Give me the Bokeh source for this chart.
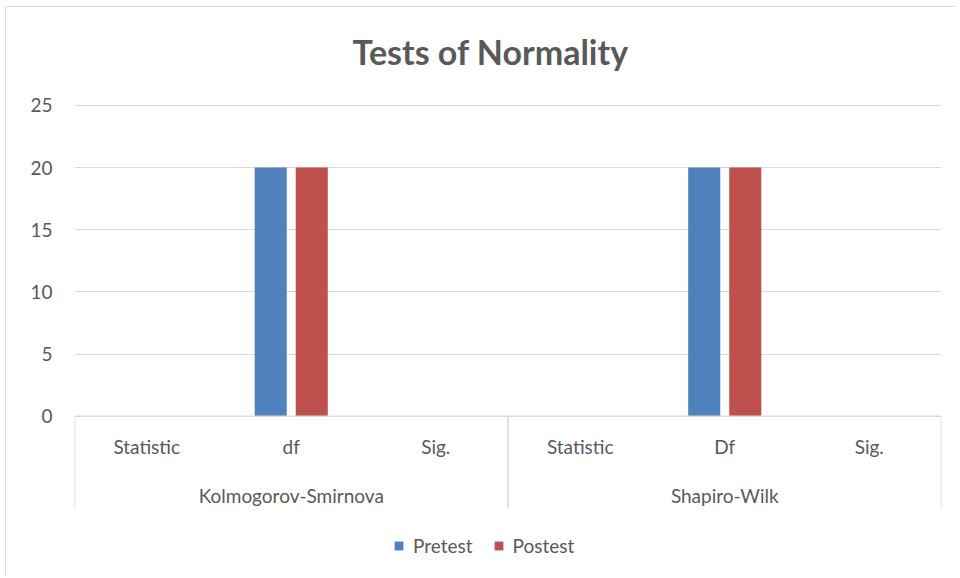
from bokeh.plotting import figure
from bokeh.models import Range1d, FixedTicker, Legend, LegendItem, ColumnDataSource
from bokeh.core.properties import value
from bokeh.embed import file_html
from bokeh.resources import INLINE

# ---- data ----
groups = ["Kolmogorov-Smirnova", "Shapiro-Wilk"]
categories = ["Statistic", "df", "Sig.", "Statistic", "Df", "Sig."]
pretest = [0, 20, 0, 0, 20, 0]
postest = [0, 20, 0, 0, 20, 0]
series_names = ["Pretest", "Postest"]
series_colors = ["#4F81BD", "#C0504D"]
y_ticks = [0, 5, 10, 15, 20, 25]
title_text = "Tests of Normality"

FONT = "Lato"
TXT = "#595959"
GRID = "#D9D9D9"

n = len(categories)
per_group = n // len(groups)

p = figure(width=950, height=570, output_backend="svg", toolbar_location=None,
           x_range=Range1d(0, n), y_range=Range1d(-12.98, 32.88),
           min_border_left=68, min_border_right=15, min_border_top=0, min_border_bottom=0)
p.styles = {"border-left": "1px solid #d9d9d9", "border-top": "1px solid #d9d9d9",
            "margin-left": "5px", "margin-top": "6px"}
p.outline_line_color = None
p.background_fill_color = "white"
p.border_fill_color = "white"

# axes
p.xaxis.visible = False
p.xgrid.visible = False
p.yaxis.ticker = FixedTicker(ticks=y_ticks)
p.yaxis.axis_line_color = None
p.yaxis.major_tick_line_color = None
p.yaxis.minor_tick_line_color = None
p.yaxis.major_label_standoff = 16
p.yaxis.major_label_text_font = FONT
p.yaxis.major_label_text_font_size = "19px"
p.yaxis.major_label_text_color = TXT
p.ygrid.ticker = FixedTicker(ticks=y_ticks)
p.ygrid.grid_line_color = GRID
p.ygrid.grid_line_width = 1

# bars
centers = [i + 0.5 for i in range(n)]
off = 0.142
w = 0.222
src = ColumnDataSource(dict(x1=[c - off for c in centers], x2=[c + off for c in centers],
                            pre=pretest, post=postest))
r1 = p.vbar(x="x1", top="pre", bottom=0, width=w, source=src,
            fill_color=series_colors[0], line_color=None)
r2 = p.vbar(x="x2", top="post", bottom=0, width=w, source=src,
            fill_color=series_colors[1], line_color=None)

# category box lines
box_bottom = -7.43
p.segment(x0=[0], y0=[0], x1=[n], y1=[0], line_color=GRID, line_width=1.5)
bounds = [g * per_group for g in range(len(groups) + 1)]
p.segment(x0=bounds, y0=[0] * len(bounds), x1=bounds, y1=[box_bottom] * len(bounds),
          line_color=GRID, line_width=1.5)

# category labels
p.text(x=centers, y=[-2.44] * n, text=categories, text_font=value(FONT),
       text_font_size="19px", text_color=TXT, text_align="center", text_baseline="middle")
gcenters = [g * per_group + per_group / 2 for g in range(len(groups))]
p.text(x=gcenters, y=[-6.38] * len(groups), text=groups, text_font=value(FONT),
       text_font_size="19px", text_color=TXT, text_align="center", text_baseline="middle")

# title
p.text(x=[2.88], y=[29.35], text=[title_text], text_font=value(FONT),
       text_font_size="34px", text_font_style="bold", text_color=TXT,
       text_align="center", text_baseline="middle")

# legend
legend = Legend(items=[LegendItem(label=series_names[0], renderers=[r1]),
                       LegendItem(label=series_names[1], renderers=[r2])],
                orientation="horizontal", location=(319, 20),
                padding=0, margin=0, spacing=20, glyph_width=11, glyph_height=11,
                label_standoff=9, label_text_font=FONT, label_text_font_size="19px",
                label_text_color=TXT, border_line_color=None, background_fill_alpha=0)
p.add_layout(legend)

open("out.html", "w").write(file_html(p, INLINE))
